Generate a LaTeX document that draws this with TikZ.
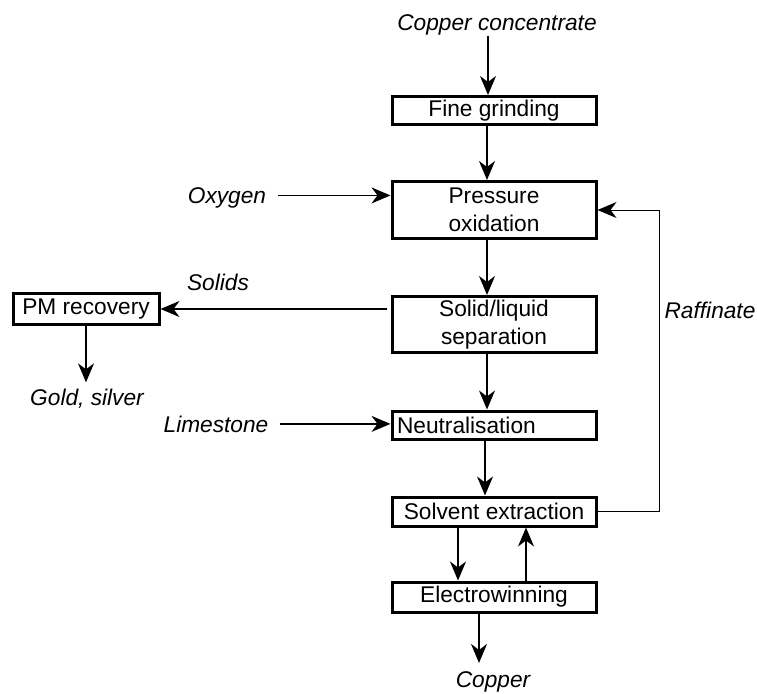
\documentclass[tikz,border=0pt]{standalone}
\usepackage{fontspec}
\setmainfont{Liberation Sans}
\usetikzlibrary{arrows.meta}
\begin{document}
\begin{tikzpicture}[x=1pt,y=-1pt,
  every node/.style={font=\fontsize{22.7}{28.5}\selectfont},
  unit/.style={draw=black,line width=3pt,minimum width=204pt,inner sep=0pt,align=center},
  stream/.style={font=\fontsize{22.7}{28.5}\selectfont\itshape,inner sep=0pt,anchor=base},
  flow/.style={line width=1.5pt,-{Stealth[length=19pt,width=16pt,inset=6pt]}}]
\useasboundingbox (0,0) rectangle (757,693);

% process units
\node[unit,minimum height=28pt] (fine) at (494,110.5) {Fine grinding};
\node[unit,minimum height=57pt] (pox)  at (494,210) {Pressure\\oxidation};
\node[unit,minimum height=56pt] (sls)  at (494,324.5) {Solid/liquid\\separation};
\node[unit,minimum height=31pt,minimum width=146pt] (pm) at (86,309) {PM recovery};
\node[unit,minimum height=28pt,text width=194pt,inner xsep=5pt,align=left] (neut) at (494,425) {Neutralisation};
\node[unit,minimum height=29pt] (sx)   at (494,511.5) {Solvent extraction};
\node[unit,minimum height=30pt] (ew)   at (494,597) {Electrowinning};

% input and output streams
\node[stream] (conc) at (497,31)  {Copper concentrate};
\node[stream] (oxy)  at (227,203) {Oxygen};
\node[stream] (sol)  at (218,290) {Solids};
\node[stream] (gold) at (87,405)  {Gold, silver};
\node[stream] (lime) at (216,432) {Limestone};
\node[stream] (raff) at (710,318) {Raffinate};
\node[stream] (cu)   at (493,687) {Copper};

% main line
\draw[flow] ([xshift=-6pt]fine.north |- conc.south) -- ([xshift=-6pt]fine.north);
\draw[flow] ([xshift=-7pt]fine.south) -- ([xshift=-7pt]pox.north);
\draw[flow] ([xshift=-7pt]pox.south) -- ([xshift=-7pt]sls.north);
\draw[flow] ([xshift=-7pt]sls.south) -- ([xshift=-7pt]neut.north);
\draw[flow] ([xshift=-9pt]neut.south) -- ([xshift=-9pt]sx.north);
\draw[flow] ([xshift=-36pt]sx.south) -- ([xshift=-36pt]ew.north);
\draw[flow] ([xshift=32pt]ew.north) -- ([xshift=32pt]sx.south);
\draw[flow,shorten >=8pt] ([xshift=-15pt]ew.south) -- ([xshift=-15pt]ew.south |- cu.north);

% reagents
\draw[flow] ([xshift=12pt,yshift=2pt]oxy.east) -- ([yshift=2pt]oxy.east -| pox.west);
\draw[flow] ([xshift=11pt]lime.east) -- (lime.east -| neut.west);

% solids to precious metal recovery
\draw[flow] ([xshift=-4pt]sls.west |- pm.east) -- (pm.east);
\draw[flow,shorten >=6pt] (pm.south) -- (pm.south |- gold.north);

% raffinate recycle
\draw[flow,line width=1pt] (sx.east) -| (659,210) -- (pox.east);
\end{tikzpicture}
\end{document}
